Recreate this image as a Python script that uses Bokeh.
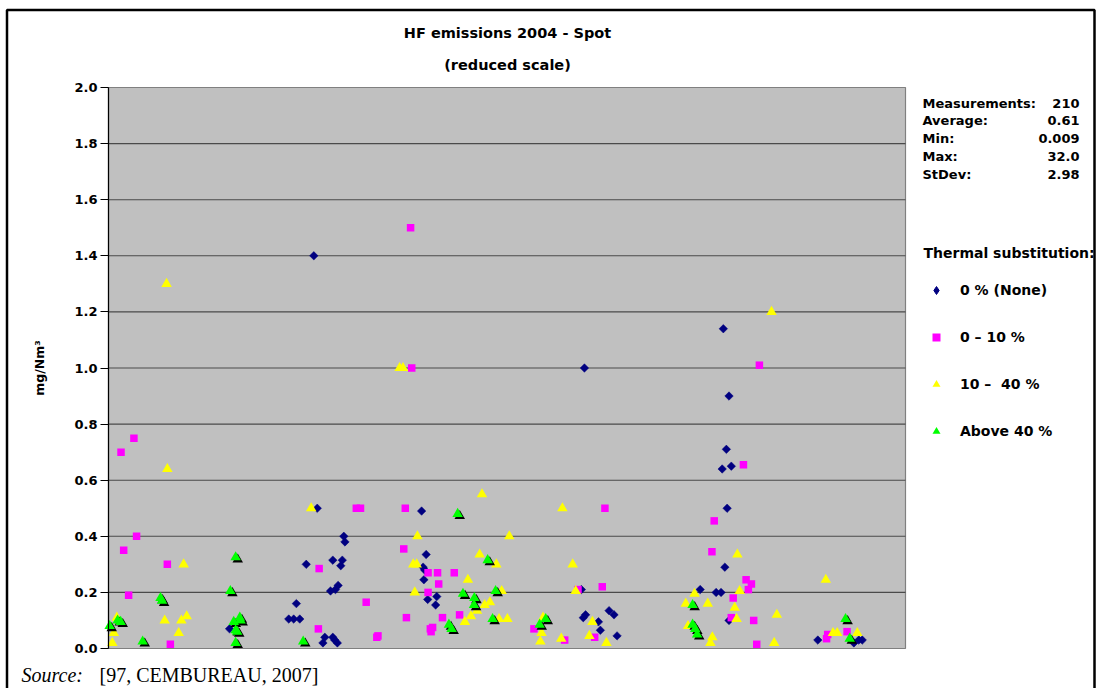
import numpy as np
from bokeh.plotting import figure
from bokeh.models import (Range1d, FixedTicker, NumeralTickFormatter, Label, Legend,
                          LegendItem, BoxAnnotation, ColumnDataSource)
from bokeh.transform import dodge
from bokeh.embed import file_html
from bokeh.resources import INLINE

# ---------------- data (x = measurement position, y = HF in mg/Nm3) ----------------
none_x = [54.1, 125.4, 162.0, 163.5, 162.8, 161.7, 164.1, 163.0, 162.4, 155.9, 160.1, 161.4,
          163.5, 186.9, 196.4, 197.7, 198.6, 124.6, 125.7, 125.1, 131.9, 133.2, 129.1, 129.6,
          134.0, 55.0, 62.0, 62.3, 52.1, 59.1, 61.6, 61.2, 60.5, 59.8, 58.5, 49.5, 47.5, 48.8,
          50.4, 56.5, 57.0, 59.1, 59.6, 60.3, 31.9, 82.5, 83.7, 82.9, 83.3, 83.1, 86.5, 84.1, 86.2]
none_y = [1.40, 1.00, 1.14, 0.90, 0.71, 0.64, 0.65, 0.50, 0.29, 0.21, 0.20, 0.20,
          0.10, 0.03, 0.02, 0.03, 0.03, 0.21, 0.12, 0.11, 0.135, 0.12, 0.095, 0.065,
          0.045, 0.50, 0.40, 0.38, 0.30, 0.315, 0.315, 0.295, 0.225, 0.21, 0.205, 0.16, 0.105, 0.105,
          0.105, 0.02, 0.04, 0.04, 0.03, 0.02, 0.07, 0.49, 0.335, 0.29, 0.28, 0.245, 0.185, 0.175, 0.155]

low_x = [6.7, 3.3, 7.4, 4.0, 15.5, 5.3, 16.3, 55.5, 55.3, 67.9, 70.7, 71.0, 65.3, 66.4, 78.2,
         79.6, 79.9, 77.8, 84.2, 86.7, 91.1, 87.0, 84.2, 78.5, 88.0, 92.5, 84.8, 85.4, 85.0,
         112.1, 130.8, 123.7, 130.1, 128.1, 120.2, 159.6, 159.0, 167.3, 171.5, 168.0, 169.4,
         168.6, 164.6, 164.1, 170.0, 170.8, 189.2, 189.5, 194.6]
low_y = [0.75, 0.70, 0.40, 0.35, 0.30, 0.19, 0.015, 0.285, 0.07, 0.165, 0.04, 0.045, 0.50, 0.50, 0.50,
         1.50, 1.00, 0.355, 0.27, 0.27, 0.27, 0.23, 0.20, 0.11, 0.11, 0.12, 0.07, 0.075, 0.06,
         0.07, 0.50, 0.21, 0.22, 0.04, 0.03, 0.455, 0.345, 0.655, 1.01, 0.245, 0.23,
         0.21, 0.18, 0.11, 0.10, 0.015, 0.035, 0.05, 0.06]

mid_x = [15.5, 15.3, 19.8, 14.8, 19.2, 20.6, 18.5, 1.4, 1.0, 2.2, 53.4, 76.7, 77.6, 80.3, 81.2,
         81.4, 80.7, 98.4, 105.6, 97.8, 102.2, 94.7, 103.6, 99.1, 100.5, 97.1, 95.5, 93.9, 102.9,
         105.1, 119.6, 122.3, 123.1, 127.5, 126.7, 131.2, 119.3, 114.1, 113.8, 114.5, 154.4, 152.1,
         157.9, 152.7, 159.1, 158.6, 165.7, 166.3, 165.0, 165.5, 176.1, 175.4, 174.7, 189.0, 190.9,
         192.0, 197.3]
mid_y = [0.64, 1.30, 0.30, 0.10, 0.10, 0.115, 0.055, 0.055, 0.02, 0.11, 0.50, 1.00, 1.00, 0.30, 0.30,
         0.40, 0.20, 0.55, 0.40, 0.335, 0.30, 0.245, 0.205, 0.155, 0.165, 0.135, 0.115, 0.095, 0.105,
         0.105, 0.50, 0.30, 0.205, 0.095, 0.045, 0.02, 0.035, 0.055, 0.025, 0.11, 0.195, 0.16,
         0.16, 0.08, 0.04, 0.02, 0.335, 0.205, 0.145, 0.105, 0.12, 0.02, 1.20, 0.245, 0.055,
         0.055, 0.055]

high_x = [0.3, 2.4, 3.2, 13.7, 14.1, 9.0, 33.5, 32.1, 33.0, 34.6, 34.8, 33.5, 33.9, 33.5, 51.3,
          92.0, 99.9, 93.4, 96.4, 96.3, 102.0, 101.2, 89.7, 90.4, 113.6, 115.2, 153.9, 153.9,
          154.6, 155.1, 194.2, 195.3]
high_y = [0.08, 0.10, 0.095, 0.18, 0.17, 0.025, 0.325, 0.205, 0.095, 0.11, 0.10, 0.065, 0.06, 0.02, 0.025,
          0.48, 0.315, 0.195, 0.18, 0.155, 0.205, 0.105, 0.085, 0.07, 0.085, 0.105, 0.155, 0.085,
          0.07, 0.05, 0.105, 0.035]

series_names = ["0 % (None)", "0 \u2013 10 %", "10 \u2013  40 %", "Above 40 %"]
stat_names = ["Measurements:", "Average:", "Min:", "Max:", "StDev:"]
stat_values = ["210", "0.61", "0.009", "32.0", "2.98"]
y_ticks = [0.0, 0.2, 0.4, 0.6, 0.8, 1.0, 1.2, 1.4, 1.6, 1.8, 2.0]

X_MAX = 210          # measurement positions along the axis
Y_MAX = 2.0          # reduced scale upper limit
SANS = "DejaVu Sans"
SERIF = "Liberation Serif"

# layout: canvas size and plot-area edges in canvas pixels
W, H = 1098, 688
FL, FR, FT, FB = 108, 905, 87, 648
KX = (FR - FL) / X_MAX
KY = (FB - FT) / Y_MAX

p = figure(width=W, height=H,
           x_range=Range1d(-FL / KX, (W - FL) / KX),
           y_range=Range1d(-(H - FB) / KY, FB / KY),
           output_backend="svg", toolbar_location=None, min_border=0)
p.title.visible = False
p.background_fill_color = "white"
p.border_fill_color = "white"
p.outline_line_color = None
p.xaxis.visible = False
p.xgrid.visible = False
p.ygrid.visible = False

# plot area and its horizontal grid lines
p.quad(left=[0], right=[X_MAX], bottom=[0], top=[Y_MAX],
       fill_color="#C0C0C0", line_color="#808080", line_width=1.2)
grid_ys = y_ticks[1:-1]
p.segment(x0=[0] * len(grid_ys), x1=[X_MAX] * len(grid_ys), y0=grid_ys, y1=grid_ys,
          line_color="#4a4a4a", line_width=1.1)

ax = p.yaxis[0]
ax.fixed_location = 0
ax.bounds = (0, Y_MAX)
ax.ticker = FixedTicker(ticks=y_ticks)
ax.formatter = NumeralTickFormatter(format="0.0")
ax.major_label_text_font = SANS
ax.major_label_text_font_style = "bold"
ax.major_label_text_font_size = "13px"
ax.major_label_text_color = "black"
ax.major_label_standoff = 3
ax.major_tick_out = 8
ax.major_tick_in = 0
ax.minor_tick_out = 0
ax.minor_tick_in = 0
ax.axis_line_color = "black"
ax.axis_line_width = 1.2
ax.major_tick_line_color = "black"
ax.axis_label = "mg/Nm\u00b3"
ax.axis_label_text_font = SANS
ax.axis_label_text_font_style = "bold"
ax.axis_label_text_font_size = "12.5px"
ax.axis_label_text_color = "black"
ax.axis_label_standoff = 24

src_none = ColumnDataSource(dict(x=none_x, y=none_y))
src_low = ColumnDataSource(dict(x=low_x, y=low_y))
src_mid = ColumnDataSource(dict(x=mid_x, y=mid_y))
src_high = ColumnDataSource(dict(x=high_x, y=high_y))

p.scatter("x", "y", source=src_none, marker="square", size=6, angle=np.pi / 4,
          fill_color="#000080", line_color="#000080", line_width=0.5)
r_low = p.scatter("x", "y", source=src_low, marker="square", size=7.5,
                  fill_color="#FF00FF", line_color=None)
r_mid = p.scatter("x", "y", source=src_mid, marker="triangle", size=10.5,
                  fill_color="#FFFF00", line_color=None)
p.scatter(dodge("x", 0.55, range=p.x_range), dodge("y", -0.0075, range=p.y_range),
          source=src_high, marker="triangle", size=10.5, fill_color="black", line_color=None)
r_high = p.scatter("x", "y", source=src_high, marker="triangle", size=10.5,
                   fill_color="#00FF00", line_color=None)
# zero-size diamond copy of the first series, used only as its legend key
r_none_key = p.scatter("x", "y", source=src_none, marker="diamond", size=0,
                       fill_color="#000080", line_color="#000080")


def dx(px):
    return (px - FL) / KX


def dy(py):
    return (FB - py) / KY


def lab(text, px, py, align="left", size="13px", font=SANS, style="bold"):
    p.add_layout(Label(x=dx(px), y=dy(py), text=text, text_align=align,
                       text_baseline="middle", text_font_size=size, text_font=font,
                       text_font_style=style, text_color="black"))


lab("HF emissions 2004 - Spot", 507, 32, align="center", size="14.5px")
lab("(reduced scale)", 507, 64, align="center", size="14.5px")

stat_rows = [102.5, 120, 138, 156, 174]
for name, val, yy in zip(stat_names, stat_values, stat_rows):
    lab(name, 922, yy)
    lab(val, 1079, yy, align="right")
lab("Thermal substitution:", 923, 252, size="14px")

lab("Source:", 21, 674, size="20px", font=SERIF, style="italic")
lab("[97, CEMBUREAU, 2007]", 99, 674, size="20px", font=SERIF, style="normal")

legend = Legend(items=[LegendItem(label=series_names[0], renderers=[r_none_key]),
                       LegendItem(label=series_names[1], renderers=[r_low]),
                       LegendItem(label=series_names[2], renderers=[r_mid]),
                       LegendItem(label=series_names[3], renderers=[r_high])],
                location=(926, 247), orientation="vertical", glyph_width=20, glyph_height=20,
                spacing=27, padding=0, margin=0, label_standoff=14, label_text_font=SANS,
                label_text_font_style="bold", label_text_font_size="14px",
                label_text_color="black",
                background_fill_alpha=0, border_line_alpha=0)
p.add_layout(legend)

frame_box = BoxAnnotation(left=dx(6.5), right=dx(1094), top=dy(9.5), bottom=dy(720),
                          fill_alpha=0, line_color="black", line_alpha=1, line_width=2.5)
p.add_layout(frame_box)

open("out.html", "w").write(file_html(p, INLINE))
